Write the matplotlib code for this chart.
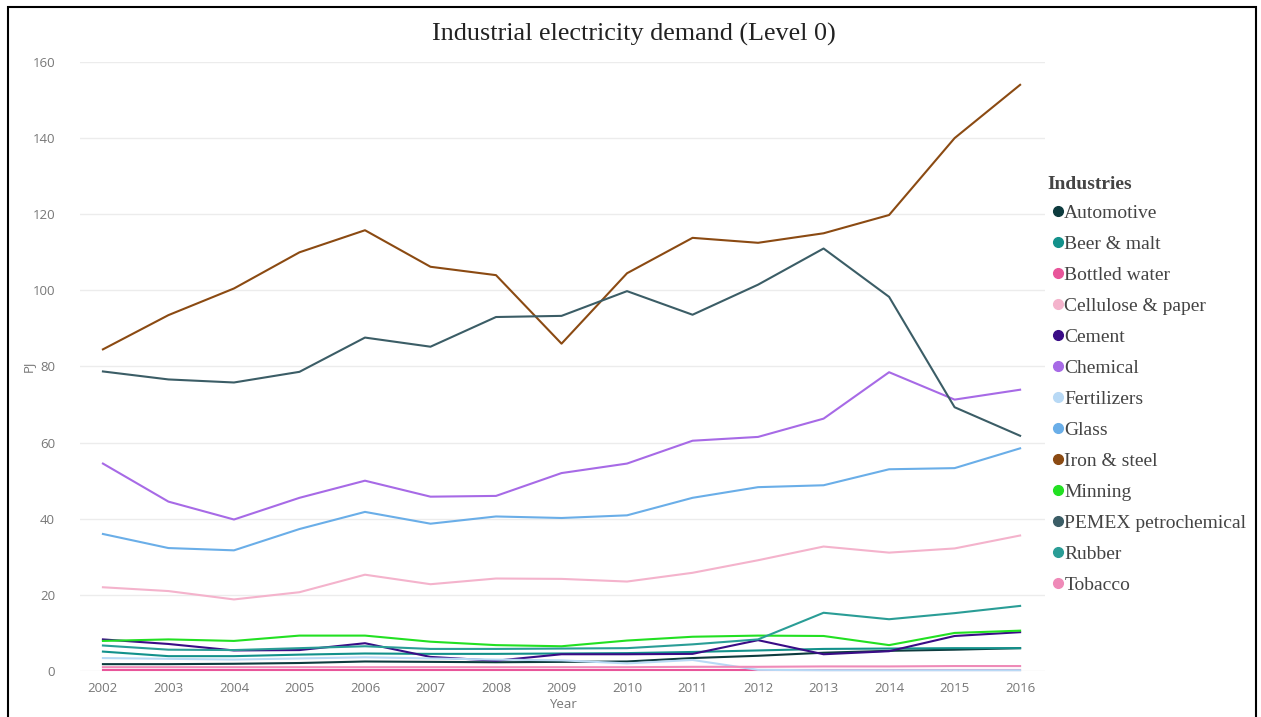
import numpy as np
import matplotlib
matplotlib.use("Agg")
import matplotlib.pyplot as plt
from matplotlib.lines import Line2D
from matplotlib.patches import Rectangle

years = list(range(2002, 2017))

automotive = [1.8, 1.8, 1.9, 2.1, 2.5, 2.4, 2.3, 2.4, 2.5, 3.4, 4.0, 4.8, 5.3, 5.6, 6.0]
beer_malt = [5.1, 3.9, 3.9, 4.3, 4.6, 4.5, 4.5, 4.6, 4.7, 5.0, 5.4, 5.8, 5.9, 6.0, 6.0]
bottled_water = [0.3, 0.3, 0.3, 0.3, 0.3, 0.3, 0.3, 0.3, 0.3, 0.3, 0.3, 0.3, 0.3, 0.3, 0.3]
cellulose_paper = [22.0, 21.0, 18.8, 20.7, 25.3, 22.8, 24.3, 24.2, 23.5, 25.8, 29.1, 32.7, 31.1, 32.2, 35.6]
cement = [8.3, 7.1, 5.4, 5.5, 7.3, 3.7, 2.7, 4.4, 4.4, 4.5, 8.1, 4.4, 5.2, 9.2, 10.2]
chemical = [54.5, 44.5, 39.8, 45.5, 50.0, 45.8, 46.0, 52.0, 54.5, 60.5, 61.5, 66.3, 78.5, 71.3, 73.9]
fertilizers = [3.4, 3.2, 3.0, 3.3, 3.6, 3.3, 3.0, 2.8, 2.0, 2.9, 0.3, 0.2, 0.2, 0.2, 0.2]
glass = [36.0, 32.3, 31.7, 37.3, 41.8, 38.7, 40.6, 40.2, 40.9, 45.5, 48.3, 48.8, 53.0, 53.3, 58.5]
iron_steel = [84.5, 93.5, 100.5, 110.0, 115.8, 106.2, 104.0, 86.0, 104.5, 113.8, 112.5, 115.0, 119.8, 140.0, 154.0]
minning = [7.9, 8.3, 7.9, 9.3, 9.3, 7.7, 6.8, 6.5, 8.0, 9.0, 9.3, 9.2, 6.8, 10.0, 10.6]
pemex = [78.7, 76.6, 75.8, 78.6, 87.6, 85.2, 93.0, 93.3, 99.8, 93.6, 101.5, 111.0, 98.3, 69.3, 61.8]
rubber = [6.7, 5.6, 5.5, 6.0, 6.5, 5.8, 5.8, 5.9, 6.0, 7.0, 8.3, 15.3, 13.6, 15.2, 17.1]
tobacco = [1.0, 1.0, 1.0, 1.0, 1.0, 1.0, 1.0, 1.0, 1.0, 1.1, 1.1, 1.2, 1.2, 1.3, 1.3]

industries = ["Automotive", "Beer & malt", "Bottled water", "Cellulose & paper", "Cement",
              "Chemical", "Fertilizers", "Glass", "Iron & steel", "Minning",
              "PEMEX petrochemical", "Rubber", "Tobacco"]
series = [automotive, beer_malt, bottled_water, cellulose_paper, cement, chemical,
          fertilizers, glass, iron_steel, minning, pemex, rubber, tobacco]
colors = ["#0d3b3e", "#13918b", "#e8559a", "#f4b3cc", "#3a0c86", "#a76ae6",
          "#b8d9f5", "#6aaee8", "#8b4a12", "#22e022", "#3b5d66", "#2a9d96", "#ef8ab8"]

W, H = 1261, 717
fig = plt.figure(figsize=(W / 100, H / 100), dpi=100)
fig.patch.set_facecolor("white")

# outer frame
fig.add_artist(Rectangle((8 / W, -0.01), (1256 - 8) / W, 1.01 - 7 / H,
                         transform=fig.transFigure, fill=False,
                         edgecolor="black", linewidth=1.5))

ax = fig.add_axes([80 / W, (H - 671) / H, (1045 - 80) / W, (671 - 62) / H])
ax.set_xlim(2001.65, 2016.38)
ax.set_ylim(0, 160)

for name, vals, col in zip(industries, series, colors):
    ax.plot(years, vals, color=col, linewidth=1.5, clip_on=False, zorder=3)

ax.set_yticks(range(0, 161, 20))
ax.set_xticks(years)
ax.grid(axis="y", color="#ececec", linewidth=1)
ax.set_axisbelow(True)
for s in ax.spines.values():
    s.set_visible(False)
ax.tick_params(axis="both", length=0, labelsize=9.5, labelcolor="#777777")
ax.tick_params(axis="y", pad=18)
ax.tick_params(axis="x", pad=8)
for lab in ax.get_xticklabels() + ax.get_yticklabels():
    lab.set_fontfamily("Open Sans")

ax.set_xlabel("Year", fontsize=9.5, color="#777777", family="Open Sans", labelpad=2)
ax.set_ylabel("PJ", fontsize=9.5, color="#777777", family="Open Sans", labelpad=-2)

fig.text(634 / W, 1 - 34 / H, "Industrial electricity demand (Level 0)",
         ha="center", va="center", fontsize=18.8, family="Liberation Serif", color="#222222")

handles = [Line2D([], [], linestyle="none", marker="o", markersize=7,
                  markerfacecolor=c, markeredgecolor=c) for c in colors]
leg = fig.legend(handles, industries, loc="upper left",
                 bbox_to_anchor=(1040 / W, 1 - 168 / H),
                 frameon=False, title="Industries",
                 prop={"family": "Liberation Serif", "size": 14},
                 handletextpad=-0.25, handlelength=1.1, labelspacing=0.69,
                 borderaxespad=0, alignment="left")
leg._legend_box.sep = 8
leg.get_title().set_fontfamily("Liberation Serif")
leg.get_title().set_fontweight("bold")
leg.get_title().set_fontsize(14)
leg.get_title().set_color("#444444")
for t in leg.get_texts():
    t.set_color("#444444")

fig.savefig("out.png", dpi=100)
